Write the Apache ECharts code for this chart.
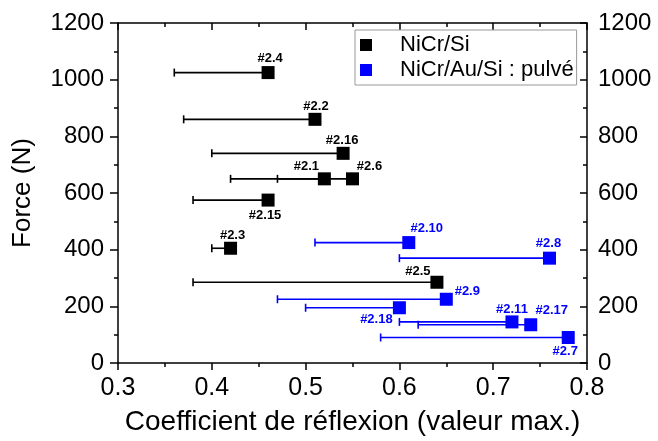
<!DOCTYPE html>
<html lang="fr">
<head>
<meta charset="UTF-8">
<title>reflexion_force</title>
<script src="https://cdn.jsdelivr.net/npm/echarts@6/dist/echarts.min.js"></script>
</head>
<body style="margin:0;background:#fff;">
<div id="chart" style="width:658px;height:441px;"></div>
<script>
// NiCr/Si
var blackNames = ['#2.4', '#2.2', '#2.16', '#2.1', '#2.6', '#2.15', '#2.3', '#2.5'];
var blackX     = [0.46, 0.51, 0.54, 0.52, 0.55, 0.46, 0.42, 0.64];
var blackY     = [1025, 860, 740, 650, 650, 575, 405, 285];
var blackMin   = [0.36, 0.37, 0.40, 0.42, 0.47, 0.38, 0.40, 0.38];

// NiCr/Au/Si : pulvé
var blueNames = ['#2.10', '#2.8', '#2.9', '#2.18', '#2.11', '#2.17', '#2.7'];
var blueX     = [0.61, 0.76, 0.65, 0.60, 0.72, 0.74, 0.78];
var blueY     = [425, 370, 225, 195, 145, 135, 90];
var blueMin   = [0.51, 0.60, 0.47, 0.50, 0.60, 0.62, 0.58];

// decalage des etiquettes (px) par rapport au carre
var labelShift = {
    '#2.4': [2, -14], '#2.2': [1, -13], '#2.16': [-1, -13], '#2.1': [-18, -12],
    '#2.6': [17, -12], '#2.15': [-3, 15], '#2.3': [2, -13], '#2.5': [-19, -11],
    '#2.10': [18, -14], '#2.8': [-1, -15], '#2.9': [21, -8], '#2.18': [-23, 12],
    '#2.11': [0, -12], '#2.17': [21, -14], '#2.7': [-3, 14]
};

var FONT = 'Liberation Sans, Arial, sans-serif';
var BLUE = '#0000ff';

function points(names, xs, ys, color) {
    var res = [];
    for (var i = 0; i < names.length; i++) {
        res.push({
            name: names[i],
            value: [xs[i], ys[i]],
            label: {offset: labelShift[names[i]] || [0, -13], color: color}
        });
    }
    return res;
}

function bars(xs, ys, mins) {
    var res = [];
    for (var i = 0; i < xs.length; i++) res.push([mins[i], xs[i], ys[i]]);
    return res;
}

function errRender(color) {
    return function (params, api) {
        var y = api.value(2);
        var a = api.coord([api.value(0), y]);
        var b = api.coord([api.value(1), y]);
        var st = {stroke: color, lineWidth: 1.6};
        return {
            type: 'group',
            children: [
                {type: 'line', shape: {x1: a[0], y1: a[1], x2: b[0], y2: b[1]}, style: st},
                {type: 'line', shape: {x1: a[0], y1: a[1] - 4, x2: a[0], y2: a[1] + 4}, style: st}
            ]
        };
    };
}

var axisLine = {show: true, onZero: false, lineStyle: {color: '#000', width: 1.5}};
var plain = function (v) { return String(v); };

var chart = echarts.init(document.getElementById('chart'));
chart.setOption({
    animation: false,
    textStyle: {fontFamily: FONT},
    grid: {left: 118, right: 71, top: 23, bottom: 73},
    legend: {
        data: ['NiCr/Si', 'NiCr/Au/Si : pulvé'],
        orient: 'vertical',
        left: 355,
        top: 30,
        padding: [4, 3, 4, 5],
        itemGap: 3,
        itemWidth: 12,
        itemHeight: 12,
        icon: 'rect',
        borderColor: '#999',
        borderWidth: 1,
        formatter: '{g|}{t|{name}}',
        textStyle: {
            fontFamily: FONT,
            fontSize: 22,
            color: '#000',
            rich: {g: {width: 23}, t: {fontSize: 22, fontFamily: FONT, color: '#000'}}
        }
    },
    xAxis: [{
        type: 'value', min: 0.3, max: 0.8, interval: 0.1, position: 'bottom',
        name: 'Coefficient de réflexion (valeur max.)', nameLocation: 'middle', nameGap: 45,
        nameTextStyle: {fontSize: 28, color: '#000', fontFamily: FONT},
        axisLine: axisLine,
        axisTick: {inside: false, length: 7, lineStyle: {color: '#000', width: 1.5}},
        minorTick: {show: true, splitNumber: 2, length: 4, lineStyle: {color: '#000', width: 1.5}},
        axisLabel: {fontSize: 25, color: '#000', margin: 13, fontFamily: FONT,
            formatter: function (v) { return v.toFixed(1); }},
        splitLine: {show: false}
    }, {
        type: 'value', min: 0.3, max: 0.8, interval: 0.1, position: 'top',
        axisLine: axisLine,
        axisTick: {inside: true, length: 7, lineStyle: {color: '#000', width: 1.5}},
        minorTick: {show: true, splitNumber: 2, length: 4, lineStyle: {color: '#000', width: 1.5}},
        axisLabel: {show: false},
        splitLine: {show: false}
    }],
    yAxis: [{
        type: 'value', min: 0, max: 1200, interval: 200, position: 'left',
        name: 'Force (N)', nameLocation: 'middle', nameGap: 82,
        nameTextStyle: {fontSize: 26, color: '#000', fontFamily: FONT},
        axisLine: axisLine,
        axisTick: {inside: false, length: 8, lineStyle: {color: '#000', width: 1.5}},
        minorTick: {show: true, splitNumber: 2, length: 4, lineStyle: {color: '#000', width: 1.5}},
        axisLabel: {fontSize: 24, color: '#000', margin: 14, fontFamily: FONT, formatter: plain},
        splitLine: {show: false}
    }, {
        type: 'value', min: 0, max: 1200, interval: 200, position: 'right',
        axisLine: axisLine,
        axisTick: {inside: true, length: 7, lineStyle: {color: '#000', width: 1.5}},
        minorTick: {show: true, splitNumber: 2, length: 4, lineStyle: {color: '#000', width: 1.5}},
        axisLabel: {fontSize: 24, color: '#000', margin: 11, fontFamily: FONT, formatter: plain},
        splitLine: {show: false}
    }],
    series: [
        {
            name: 'err_black', type: 'custom', renderItem: errRender('#000'),
            encode: {x: [0, 1], y: 2}, data: bars(blackX, blackY, blackMin), z: 2
        },
        {
            name: 'err_blue', type: 'custom', renderItem: errRender(BLUE),
            encode: {x: [0, 1], y: 2}, data: bars(blueX, blueY, blueMin), z: 2
        },
        {
            name: 'NiCr/Si', type: 'scatter', symbol: 'rect', symbolSize: 13,
            itemStyle: {color: '#000', opacity: 1}, z: 3,
            label: {show: true, position: 'inside', formatter: '{b}', fontSize: 13,
                fontWeight: 'bold', fontFamily: FONT},
            data: points(blackNames, blackX, blackY, '#000')
        },
        {
            name: 'NiCr/Au/Si : pulvé', type: 'scatter', symbol: 'rect', symbolSize: 13,
            itemStyle: {color: BLUE, opacity: 1}, z: 3,
            label: {show: true, position: 'inside', formatter: '{b}', fontSize: 13,
                fontWeight: 'bold', fontFamily: FONT},
            data: points(blueNames, blueX, blueY, BLUE)
        }
    ]
});
</script>
</body>
</html>
